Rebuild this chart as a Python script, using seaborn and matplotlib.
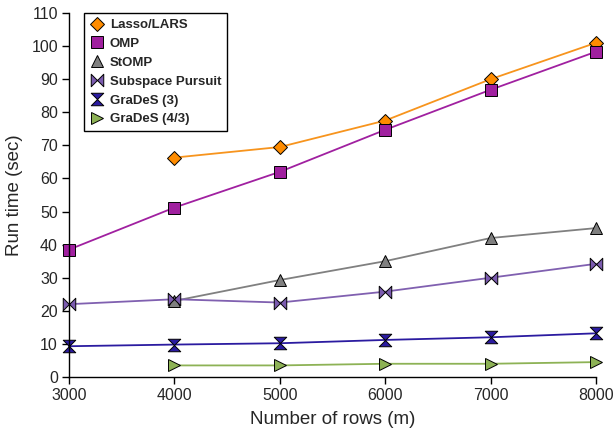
import matplotlib
matplotlib.use("Agg")
import matplotlib.pyplot as plt
import seaborn as sns
import numpy as np
from matplotlib.path import Path

sns.set_theme(style="white")
plt.rcParams['font.family'] = ['Liberation Sans', 'DejaVu Sans']

rows_full = [3000, 4000, 5000, 6000, 7000, 8000]
rows_from4k = [4000, 5000, 6000, 7000, 8000]

lasso = [66.3, 69.5, 77.5, 90.0, 101.0]
omp = [38.5, 51.2, 62.0, 74.7, 86.8, 98.3]
stomp = [23.0, 29.3, 35.0, 42.0, 45.0]
subspace = [22.0, 23.5, 22.5, 25.8, 30.0, 34.2]
grades3 = [9.3, 9.8, 10.2, 11.2, 12.0, 13.2]
grades43 = [3.5, 3.5, 4.0, 4.0, 4.5]

xticks = [3000, 4000, 5000, 6000, 7000, 8000]
yticks = list(range(0, 111, 10))

bowtie = Path([(-1, 1), (-1, -1), (0, 0), (1, 1), (1, -1), (0, 0), (-1, 1)],
              [Path.MOVETO] + [Path.LINETO] * 5 + [Path.CLOSEPOLY])
hourglass = Path([(-1, 1), (1, 1), (0, 0), (1, -1), (-1, -1), (0, 0), (-1, 1)],
                 [Path.MOVETO] + [Path.LINETO] * 5 + [Path.CLOSEPOLY])

series = [
    ("Lasso/LARS", rows_from4k, lasso, "#F7941D", "#FF8C00", "D", 7.5),
    ("OMP", rows_full, omp, "#A020A0", "#A0209F", "s", 9),
    ("StOMP", rows_from4k, stomp, "#808080", "#808080", "^", 9),
    ("Subspace Pursuit", rows_full, subspace, "#8060B0", "#7B5BAF", bowtie, 9),
    ("GraDeS (3)", rows_full, grades3, "#2B1BA0", "#2B1BA0", hourglass, 9),
    ("GraDeS (4/3)", rows_from4k, grades43, "#8DB255", "#8DB255", ">", 9),
]

fig = plt.figure(figsize=(6.14, 4.32), dpi=100)
ax = fig.add_axes([69 / 614, 1 - 377 / 432, (596 - 69) / 614, (377 - 13) / 432])

for name, xs, ys, lc, mc, mk, ms in series:
    sns.lineplot(x=xs, y=ys, ax=ax, color=lc, linewidth=1.3, marker=mk,
                 markersize=ms, markerfacecolor=mc, markeredgecolor="black",
                 markeredgewidth=0.7, label=name, clip_on=False)

ax.set_xlim(3000, 8000)
ax.set_ylim(0, 110)
ax.set_xticks(xticks)
ax.set_yticks(yticks)
ax.tick_params(axis='both', which='both', direction='out', length=5, width=1,
               color='black', labelsize=11.5, bottom=True, left=True, pad=3)
for s in ['top', 'right']:
    ax.spines[s].set_visible(False)
for s in ['left', 'bottom']:
    ax.spines[s].set_color('black')
    ax.spines[s].set_linewidth(1)
ax.set_xlabel("Number of rows (m)", fontsize=13.5, labelpad=6)
ax.set_ylabel("Run time (sec)", fontsize=13.5, labelpad=6)

leg = ax.legend(loc='upper left', bbox_to_anchor=(15 / 527, 1.0), frameon=True,
                fancybox=False, edgecolor='black', framealpha=1,
                prop={'weight': 'bold', 'size': 9.5}, handlelength=1.0,
                handletextpad=0.5, borderpad=0.45, labelspacing=0.5,
                borderaxespad=0.0)
leg.get_frame().set_linewidth(1)
for h in leg.legend_handles:
    h.set_linestyle('None')

fig.savefig("out.png", dpi=100)
